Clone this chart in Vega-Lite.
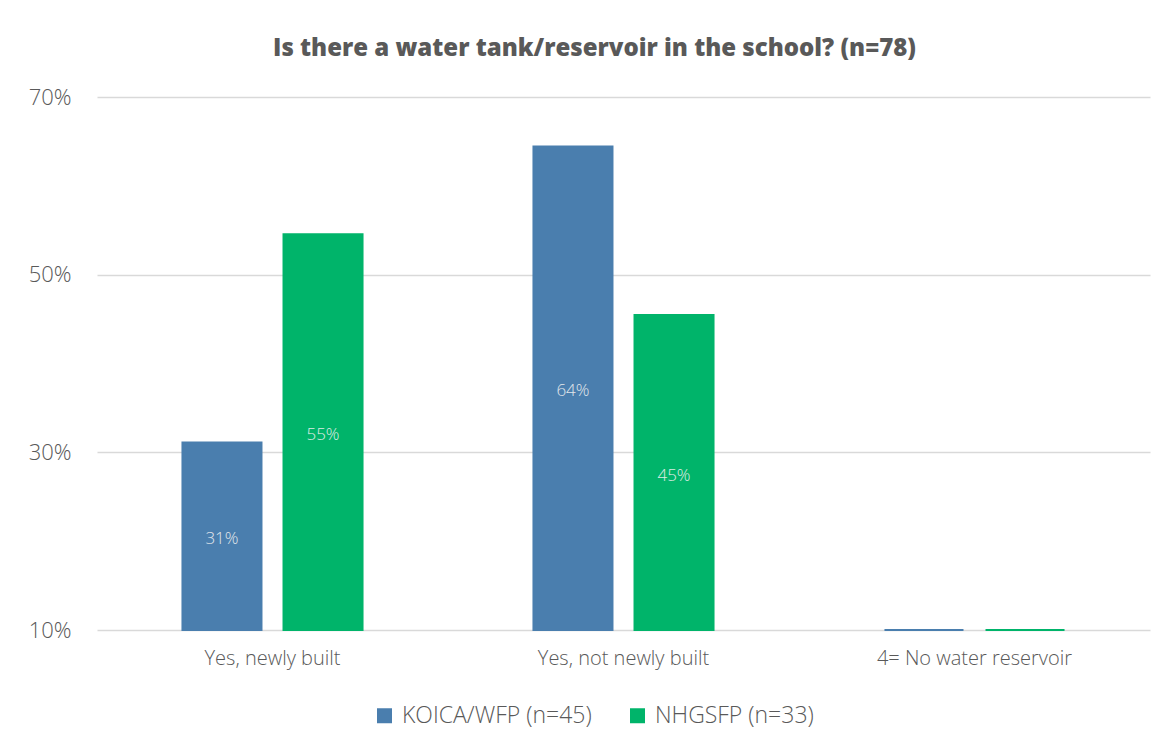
{
  "$schema": "https://vega.github.io/schema/vega-lite/v6.json",
  "autosize": "none",
  "width": 1053,
  "height": 533,
  "padding": {"left": 97, "top": 97, "right": 23, "bottom": 119},
  "background": "white",
  "title": {
    "text": "Is there a water tank/reservoir in the school? (n=78)",
    "anchor": "middle",
    "font": "Open Sans",
    "fontSize": 24,
    "fontWeight": 800,
    "color": "#595959",
    "offset": 25,
    "dx": -29
  },
  "data": {
    "values": [
      {"answer": "Yes, newly built", "program": "KOICA/WFP (n=45)", "value": 0.3111},
      {"answer": "Yes, newly built", "program": "NHGSFP (n=33)", "value": 0.5455},
      {"answer": "Yes, not newly built", "program": "KOICA/WFP (n=45)", "value": 0.6444},
      {"answer": "Yes, not newly built", "program": "NHGSFP (n=33)", "value": 0.4545},
      {"answer": "4= No water reservoir", "program": "KOICA/WFP (n=45)", "value": 0},
      {"answer": "4= No water reservoir", "program": "NHGSFP (n=33)", "value": 0}
    ]
  },
  "encoding": {
    "x": {
      "field": "answer",
      "type": "nominal",
      "sort": null,
      "title": null,
      "scale": {"paddingInner": 0.487, "paddingOuter": 0.2435},
      "axis": {
        "domain": false,
        "ticks": false,
        "labelAngle": 0,
        "labelPadding": 18,
        "labelLimit": 0,
        "labelFont": "Open Sans",
        "labelFontWeight": 300,
        "labelFontSize": 20,
        "labelColor": "#595959"
      }
    },
    "xOffset": {
      "field": "program",
      "type": "nominal",
      "sort": null,
      "scale": {"paddingInner": 0.218, "paddingOuter": 0}
    }
  },
  "layer": [
    {
      "mark": {"type": "bar", "strokeWidth": 2, "clip": false},
      "encoding": {
        "y": {
          "field": "value",
          "type": "quantitative",
          "title": null,
          "scale": {"domain": [0.1, 0.7], "clamp": true, "nice": false, "zero": false},
          "axis": {
            "values": [0.1, 0.3, 0.5, 0.7],
            "format": ".0%",
            "domain": false,
            "ticks": false,
            "labelPadding": 26,
            "labelFont": "Open Sans",
            "labelFontWeight": 300,
            "labelFontSize": 22,
            "labelColor": "#595959",
            "gridColor": "#d9d9d9",
            "gridWidth": 1.5
          }
        },
        "y2": {"datum": 0.1},
        "color": {
          "field": "program",
          "type": "nominal",
          "sort": null,
          "title": null,
          "scale": {"range": ["#4a7eae", "#00b46a"]},
          "legend": {
            "orient": "none",
            "legendX": 276,
            "legendY": 607,
            "direction": "horizontal",
            "symbolType": "square",
            "symbolSize": 225,
            "symbolStrokeWidth": 0,
            "symbolOpacity": 1,
            "labelLimit": 0,
            "labelFont": "Open Sans",
            "labelFontWeight": 300,
            "labelFontSize": 23,
            "labelColor": "#595959",
            "columnPadding": 34,
            "labelOffset": 6
          }
        },
        "stroke": {"field": "program", "type": "nominal", "sort": null, "legend": null, "scale": {"range": ["#4a7eae", "#00b46a"]}}
      }
    },
    {
      "transform": [
        {"filter": "datum.value > 0"},
        {"calculate": "(datum.value + 0.1) / 2", "as": "labelPos"}
      ],
      "mark": {
        "type": "text",
        "font": "Open Sans",
        "fontWeight": 300,
        "fontSize": 17,
        "color": "#f2f2f2",
        "opacity": 0.9,
        "baseline": "middle",
        "dy": 3
      },
      "encoding": {
        "y": {"field": "labelPos", "type": "quantitative"},
        "text": {"field": "value", "type": "quantitative", "format": ".0%"}
      }
    }
  ],
  "config": {
    "view": {"stroke": null}
  }
}
